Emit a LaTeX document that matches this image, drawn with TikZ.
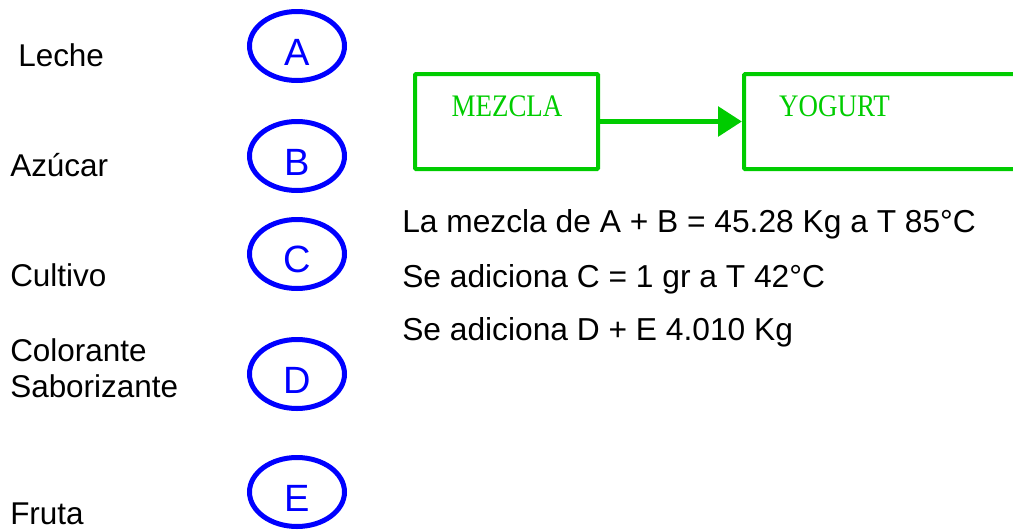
\documentclass[tikz,border=0pt]{standalone}
\usepackage{fontspec}
\setmainfont{Liberation Sans}
\newfontfamily\serifface{Liberation Serif}
\usetikzlibrary{shapes.geometric,arrows.meta}
\definecolor{mixgreen}{RGB}{0,204,0}
\definecolor{tagblue}{RGB}{0,0,255}
\begin{document}
\begin{tikzpicture}[x=0.75pt,y=-0.75pt,
  ingredient/.style={anchor=base west,inner sep=0pt,align=left,
    font=\fontsize{23.6pt}{27pt}\selectfont},
  note/.style={anchor=base west,inner sep=0pt,
    font=\fontsize{23.8pt}{27pt}\selectfont},
  tag/.style={ellipse,draw=tagblue,line width=3.75pt,
    minimum width=71.25pt,minimum height=51.75pt,inner sep=0pt},
  tagletter/.style={anchor=base,inner sep=0pt,text=tagblue,
    font=\fontsize{28.5pt}{32pt}\selectfont},
  stagebox/.style={rectangle,draw=mixgreen,line width=3pt,inner sep=0pt,
    rounded corners=0.8pt,minimum height=71.25pt},
  stagename/.style={anchor=base,inner sep=0pt,text=mixgreen,
    font=\serifface\fontsize{23.5pt}{28pt}\selectfont},
  flow/.style={draw=mixgreen,line width=4.4pt,
    -{Triangle[length=18pt,width=21.75pt]}},
]
\useasboundingbox (0,0) rectangle (1013,529);

% ingredient names
\node[ingredient] (leche)    at (18,66)  {Leche};
\node[ingredient] (azucar)   at (10,176) {Azúcar};
\node[ingredient] (cultivo)  at (10,286) {Cultivo};
\node[ingredient] (colorante) at (10,397) {Colorante\\Saborizante};
\node[ingredient] (fruta)    at (10,524) {Fruta};

% letter tags
\node[tag] (tagA) at (297,46)  {};
\node[tag] (tagB) at (297,156) {};
\node[tag] (tagC) at (297,254) {};
\node[tag] (tagD) at (297,374) {};
\node[tag] (tagE) at (297,492) {};
\node[tagletter] (letA) at (297,65)  {A};
\node[tagletter] (letB) at (297,175) {B};
\node[tagletter] (letC) at (297,272) {C};
\node[tagletter] (letD) at (297,393) {D};
\node[tagletter] (letE) at (297,511) {E};

% process stages
\node[stagebox,minimum width=137.25pt] (mezcla) at (506.5,121.5) {};
\node[stagebox,minimum width=267pt] (yogurt) at (922,121.5) {};
\node[stagename] (mezclaname) at (507,116) {\scalebox{0.86}[1]{MEZCLA}};
\node[stagename] (yogurtname) at (834.5,116) {\scalebox{0.86}[1]{YOGURT}};
\draw[flow] (mezcla.east) -- (yogurt.west);

% process notes
\node[note] (nota1) at (402,232) {La mezcla de A + B = 45.28 Kg a T 85°C};
\node[note] (nota2) at (402,287) {Se adiciona C = 1 gr a T 42°C};
\node[note] (nota3) at (402,340) {Se adiciona D + E 4.010 Kg};
\end{tikzpicture}
\end{document}
